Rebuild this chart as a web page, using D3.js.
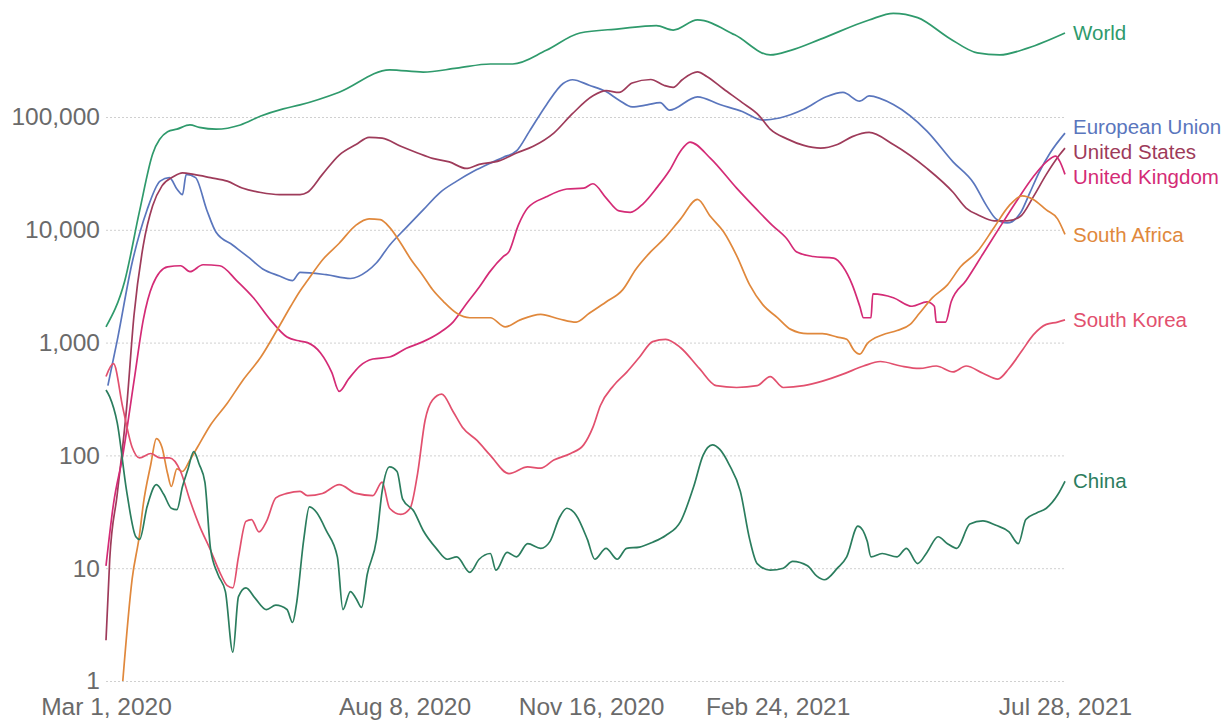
<!DOCTYPE html>
<html><head><meta charset="utf-8">
<script src="https://cdn.jsdelivr.net/npm/d3@7"></script>
<style>
html,body{margin:0;padding:0;background:#fff;}
svg{display:block;font-family:"Liberation Sans",Arial,Helvetica,sans-serif;}
</style></head>
<body>
<svg id="chart" width="1229" height="720"></svg>
<script>
// Day offsets are counted from Mar 1, 2020; values are daily new cases (7-day average)
const startDate = "2020-03-01";
const endDate = "2021-07-28";
const xTickLabels = ["2020-03-01", "2020-08-08", "2020-11-16", "2021-02-24", "2021-07-28"];
const yTickValues = [1, 10, 100, 1000, 10000, 100000];

const world = [[0,1380],[10,3500],[18,14700],[25,47000],[33,74000],[38,78000],[45,85000],[50,81000],[59,78000],[72,85000],[83,102000],[95,118000],[104,128000],[125,166000],[152,262000],[170,250000],[188,271000],[206,295000],[218,295000],[236,390000],[254,555000],[275,605000],[295,645000],[304,590000],[317,725000],[337,535000],[356,355000],[367,390000],[383,490000],[409,725000],[422,830000],[435,760000],[452,500000],[467,370000],[479,355000],[494,408000],[514,555000]];

const eu = [[1,415],[6,1040],[14,5100],[22,15000],[29,27000],[34,29000],[38,23000],[41,20500],[43,31000],[48,29000],[54,15000],[59,9500],[68,7300],[77,5600],[84,4500],[93,3900],[100,3550],[104,4200],[118,4000],[131,3700],[140,4300],[145,5100],[152,7300],[161,10500],[170,15000],[179,21400],[188,27000],[197,33000],[206,39000],[213,44000],[220,50000],[227,75000],[236,128000],[245,198000],[250,214000],[259,191000],[268,168000],[275,141000],[282,123000],[290,128000],[297,134000],[302,115000],[317,151000],[329,129000],[341,112000],[352,94000],[361,98000],[374,117000],[386,151000],[395,165000],[404,138000],[409,154000],[422,129000],[440,75000],[454,40000],[465,26000],[472,16300],[477,12500],[483,11500],[490,14000],[495,21000],[500,32000],[506,48000],[514,72000]];

const us = [[0,2.3],[2,12],[6,45],[11,260],[15,1740],[20,7300],[25,16300],[30,24500],[36,29500],[41,32000],[47,31000],[56,29000],[65,27000],[73,23500],[83,21400],[93,20500],[104,20500],[108,21500],[116,31000],[125,46000],[134,57000],[141,66000],[148,65000],[158,55000],[167,48000],[175,43000],[184,40000],[193,35000],[200,38000],[211,41000],[220,48000],[229,55000],[240,72000],[250,107000],[261,154000],[268,171000],[275,165000],[282,200000],[292,215000],[299,191000],[304,183000],[309,215000],[317,251000],[322,229000],[331,177000],[341,134000],[350,103000],[356,78000],[365,64000],[374,56000],[383,53000],[392,57000],[400,67000],[409,73000],[422,57000],[440,35000],[454,21500],[461,15600],[468,13400],[476,12000],[483,12000],[490,13100],[497,19600],[504,31000],[511,46000],[514,53000]];

const uk = [[0,10.5],[4,37],[9,100],[15,455],[20,1600],[25,3250],[33,4700],[40,4800],[45,4250],[52,4900],[61,4800],[70,3550],[79,2500],[88,1600],[97,1120],[104,1030],[108,1000],[115,810],[121,545],[125,370],[130,475],[136,620],[143,715],[152,745],[161,890],[170,1020],[179,1230],[186,1520],[193,2190],[200,3100],[206,4300],[213,5800],[216,6400],[221,11000],[226,15600],[236,19600],[247,23000],[256,23400],[261,25600],[268,19200],[275,14700],[281,14300],[288,17100],[295,23400],[302,33500],[308,50000],[313,60000],[324,43000],[338,23400],[349,15000],[357,11000],[365,8300],[370,6400],[379,5800],[390,5600],[395,4700],[400,3250],[404,2100],[406,1660],[410,1660],[411,2700],[422,2500],[432,2100],[440,2300],[444,2100],[445,1520],[450,1520],[453,2300],[461,3550],[470,6100],[479,10500],[488,17900],[497,29500],[504,40000],[509,45000],[511,41000],[514,31000]];

const southAfrica = [[9,1],[14,8],[18,20],[20,37],[24,83],[27,141],[30,118],[33,69],[35,53],[38,76],[41,72],[45,91],[49,118],[56,186],[65,290],[73,455],[83,745],[92,1320],[99,2100],[104,2870],[108,3550],[116,5400],[125,7600],[134,11000],[141,12500],[147,12300],[152,10500],[158,7600],[163,5600],[170,3900],[175,2950],[181,2300],[188,1820],[195,1660],[206,1660],[214,1380],[222,1590],[233,1780],[243,1620],[252,1520],[259,1820],[268,2290],[277,2950],[284,4470],[292,6400],[299,8300],[308,12500],[317,18600],[324,13100],[331,9600],[338,5900],[345,3250],[352,2170],[360,1660],[367,1310],[376,1200],[384,1200],[392,1120],[397,1070],[401,850],[404,790],[408,980],[416,1170],[424,1280],[431,1450],[436,1820],[443,2500],[451,3250],[458,4700],[467,6400],[476,10500],[484,16300],[491,20000],[497,18600],[504,15000],[510,12500],[514,9100]];

const southKorea = [[0,500],[4,650],[9,265],[14,118],[18,95],[24,104],[29,95],[34,95],[40,72],[45,40],[50,24],[56,14.5],[61,9.2],[65,7],[68,6.7],[71,12.6],[75,26],[78,27],[82,21],[86,26],[91,42],[97,46],[104,48],[108,44],[116,46],[125,55],[134,46],[143,44],[148,58],[152,34],[158,30],[163,34],[167,69],[171,204],[175,310],[180,350],[186,245],[191,178],[199,135],[206,100],[216,69],[226,79],[233,77],[240,91],[249,104],[256,124],[261,178],[265,277],[272,415],[279,545],[286,745],[293,1020],[300,1070],[308,900],[318,590],[327,415],[338,400],[349,415],[356,500],[363,400],[374,415],[384,455],[395,525],[406,620],[415,680],[426,620],[436,590],[445,620],[454,550],[461,620],[470,535],[478,475],[484,590],[491,850],[497,1170],[504,1450],[510,1520],[514,1590]];

const china = [[0,380],[2,330],[6,195],[11,49],[16,19],[18,18],[22,35],[27,55],[31,45],[35,34],[38,33],[41,53],[44,76],[47,108],[50,83],[53,58],[56,15],[60,8.8],[64,6.2],[68,1.8],[71,5.6],[75,6.7],[80,5.4],[86,4.3],[91,4.7],[97,4.3],[100,3.3],[102,4.7],[106,18],[109,35],[113,31],[118,21.6],[124,12.6],[127,4.3],[131,6.2],[134,5.4],[137,4.5],[140,8.8],[145,18],[148,48],[152,79],[156,72],[159,41],[165,32],[170,21.6],[177,15],[183,12],[188,12.6],[195,9.2],[200,12],[206,13.5],[209,9.6],[215,13.8],[220,12.6],[226,16.5],[233,15],[238,17.3],[243,28],[247,34],[252,29.5],[258,18],[262,12],[268,15],[274,12],[279,15],[286,15.4],[293,17],[300,19.5],[308,26],[315,53],[320,100],[325,124],[329,113],[334,83],[340,48],[345,18],[349,11],[356,9.6],[363,10],[368,11.5],[376,10.5],[381,8.5],[385,7.9],[392,10],[397,12.6],[403,23.6],[408,17.3],[410,12.6],[416,13.5],[424,12.6],[429,15],[435,11],[440,13.8],[446,19],[451,16.5],[456,15],[463,24.6],[470,26.3],[477,24],[484,21],[489,16.5],[493,27],[499,31],[504,34],[510,44.5],[514,59]];

const seriesNames = ["World", "European Union", "United States", "United Kingdom", "South Africa", "South Korea", "China"];
const seriesData = [world, eu, us, uk, southAfrica, southKorea, china];
const seriesColors = ["#2f9a6c", "#5a76bd", "#9e3b5a", "#d42b76", "#e0883c", "#e2506e", "#2b7d5e"];

(function () {
const svg = d3.select("#chart");
const mLeft = 106, mRight = 1065, mTop = 4.2, mBottom = 681;
const parse = d3.utcParse("%Y-%m-%d");
const t0 = parse(startDate);
const toDate = d => d3.utcDay.offset(t0, d);

const x = d3.scaleUtc().domain([t0, parse(endDate)]).range([mLeft, mRight]);
const y = d3.scaleLog().domain([1, 1e6]).range([mBottom, mTop]);

// Y grid + labels
const yAxis = svg.append("g").attr("transform", `translate(${mLeft},0)`)
  .call(d3.axisLeft(y).tickValues(yTickValues).tickFormat(d3.format(",")).tickSize(-(mRight - mLeft)).tickPadding(6));
yAxis.select(".domain").remove();
yAxis.selectAll(".tick line").attr("stroke", "#d0d0d0").attr("stroke-dasharray", "2,2").attr("stroke-width", 1);
yAxis.selectAll(".tick text").attr("fill", "#6a6a6a").style("font-size", "24.5px");

// X labels
const xAxis = svg.append("g").attr("transform", `translate(0,${mBottom})`)
  .call(d3.axisBottom(x).tickValues(xTickLabels.map(parse)).tickFormat(d3.utcFormat("%b %-d, %Y")).tickSize(0).tickPadding(17));
xAxis.select(".domain").remove();
xAxis.selectAll(".tick text").attr("fill", "#6a6a6a").style("font-size", "24.5px");

const line = d3.line().x(d => x(toDate(d[0]))).y(d => y(d[1])).curve(d3.curveMonotoneX);

svg.append("g").selectAll("path").data(seriesData).join("path")
  .attr("d", line)
  .attr("fill", "none")
  .attr("stroke", (d, i) => seriesColors[i])
  .attr("stroke-width", 1.7)
  .attr("stroke-linejoin", "round");

// end labels with simple dodge
const labels = seriesNames.map((n, i) => {
  const last = seriesData[i][seriesData[i].length - 1];
  return {name: n, color: seriesColors[i], y: y(last[1])};
});
const sorted = labels.slice().sort((a, b) => a.y - b.y);
const gap = 25;
for (let it = 0; it < 50; it++) {
  for (let k = 1; k < sorted.length; k++) {
    const a = sorted[k - 1], b = sorted[k];
    const ov = gap - (b.y - a.y);
    if (ov > 0) { a.y -= ov / 2; b.y += ov / 2; }
  }
}
svg.append("g").selectAll("text").data(labels).join("text")
  .attr("x", mRight + 8)
  .attr("y", d => d.y)
  .attr("dy", "0.35em")
  .attr("fill", d => d.color)
  .style("font-size", "20.5px")
  .text(d => d.name);
})();
</script>
</body></html>
